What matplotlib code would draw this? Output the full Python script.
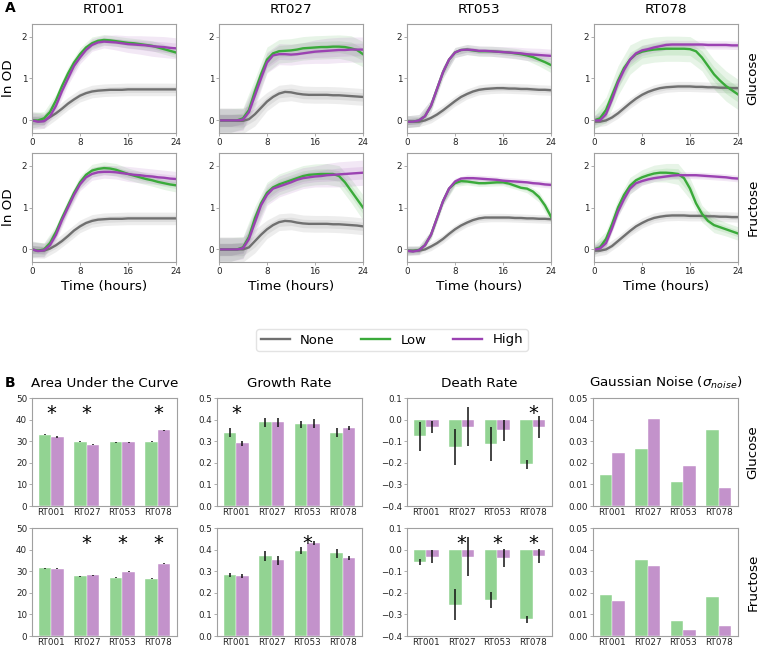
import numpy as np
import matplotlib
matplotlib.use("Agg")
import matplotlib.pyplot as plt
import matplotlib.transforms as mtransforms
from matplotlib.lines import Line2D

strains = ["RT001", "RT027", "RT053", "RT078"]
sugars = ["Glucose", "Fructose"]
levels = ["None", "Low", "High"]
hours = np.arange(25)

# mean ln OD per hour, one row per strain
glc_none = [
    [0, -0.02, -0.01, 0.08, 0.17, 0.28, 0.40, 0.50, 0.59, 0.65, 0.69, 0.71, 0.72, 0.73, 0.73, 0.73, 0.74, 0.74, 0.74, 0.74, 0.74, 0.74, 0.74, 0.74, 0.74],
    [0, 0, 0, -0.01, -0.01, 0.03, 0.15, 0.30, 0.45, 0.56, 0.64, 0.68, 0.67, 0.64, 0.62, 0.61, 0.61, 0.61, 0.61, 0.60, 0.60, 0.59, 0.58, 0.57, 0.56],
    [-0.03, -0.03, -0.03, 0.0, 0.06, 0.14, 0.24, 0.35, 0.46, 0.56, 0.63, 0.69, 0.73, 0.75, 0.76, 0.77, 0.77, 0.76, 0.76, 0.75, 0.75, 0.74, 0.73, 0.73, 0.72],
    [-0.03, -0.03, 0.0, 0.07, 0.17, 0.29, 0.41, 0.52, 0.61, 0.68, 0.73, 0.77, 0.79, 0.80, 0.81, 0.81, 0.81, 0.80, 0.80, 0.79, 0.79, 0.78, 0.78, 0.77, 0.77],
]
glc_low = [
    [0, 0.0, 0.05, 0.20, 0.48, 0.82, 1.12, 1.38, 1.58, 1.74, 1.84, 1.90, 1.92, 1.91, 1.89, 1.87, 1.85, 1.84, 1.82, 1.80, 1.78, 1.74, 1.70, 1.66, 1.62],
    [0, 0, 0, 0, 0.05, 0.25, 0.70, 1.10, 1.45, 1.60, 1.65, 1.66, 1.67, 1.69, 1.72, 1.73, 1.74, 1.75, 1.75, 1.76, 1.76, 1.75, 1.72, 1.68, 1.58],
    [-0.03, -0.03, 0.0, 0.10, 0.35, 0.75, 1.15, 1.45, 1.62, 1.68, 1.69, 1.67, 1.65, 1.65, 1.65, 1.64, 1.63, 1.62, 1.60, 1.58, 1.55, 1.51, 1.45, 1.39, 1.32],
    [0, 0.05, 0.25, 0.60, 0.95, 1.25, 1.45, 1.58, 1.64, 1.67, 1.69, 1.70, 1.71, 1.71, 1.71, 1.71, 1.70, 1.65, 1.50, 1.30, 1.10, 0.95, 0.82, 0.72, 0.62],
]
glc_high = [
    [0, -0.03, -0.02, 0.10, 0.35, 0.70, 1.00, 1.30, 1.50, 1.68, 1.80, 1.86, 1.88, 1.87, 1.86, 1.84, 1.82, 1.81, 1.80, 1.79, 1.77, 1.76, 1.75, 1.73, 1.72],
    [0, 0, 0, 0, 0.02, 0.20, 0.60, 1.00, 1.38, 1.55, 1.58, 1.58, 1.57, 1.58, 1.60, 1.62, 1.64, 1.65, 1.66, 1.67, 1.68, 1.68, 1.69, 1.69, 1.69],
    [-0.03, -0.03, 0.0, 0.10, 0.35, 0.75, 1.15, 1.45, 1.62, 1.68, 1.69, 1.68, 1.66, 1.66, 1.65, 1.64, 1.63, 1.62, 1.61, 1.60, 1.58, 1.57, 1.56, 1.55, 1.54],
    [0, 0.0, 0.15, 0.50, 0.90, 1.20, 1.45, 1.60, 1.67, 1.70, 1.74, 1.77, 1.80, 1.81, 1.81, 1.81, 1.81, 1.81, 1.81, 1.80, 1.80, 1.80, 1.80, 1.79, 1.79],
]
fru_none = [
    [0, -0.03, -0.03, 0.02, 0.10, 0.20, 0.32, 0.45, 0.55, 0.63, 0.68, 0.71, 0.72, 0.73, 0.73, 0.73, 0.74, 0.74, 0.74, 0.74, 0.74, 0.74, 0.74, 0.74, 0.74],
    [0, 0, 0, 0, 0, 0.05, 0.20, 0.35, 0.48, 0.58, 0.65, 0.68, 0.67, 0.64, 0.62, 0.61, 0.61, 0.61, 0.61, 0.60, 0.60, 0.59, 0.58, 0.57, 0.55],
    [-0.03, -0.03, -0.03, 0.0, 0.07, 0.15, 0.25, 0.37, 0.48, 0.57, 0.64, 0.70, 0.74, 0.76, 0.76, 0.76, 0.76, 0.76, 0.75, 0.75, 0.74, 0.74, 0.73, 0.73, 0.72],
    [-0.03, -0.03, 0.0, 0.08, 0.20, 0.32, 0.44, 0.55, 0.63, 0.70, 0.75, 0.78, 0.80, 0.81, 0.81, 0.81, 0.80, 0.80, 0.80, 0.79, 0.79, 0.78, 0.78, 0.77, 0.77],
]
fru_low = [
    [0, -0.03, 0.0, 0.15, 0.42, 0.75, 1.05, 1.35, 1.60, 1.78, 1.88, 1.92, 1.94, 1.93, 1.90, 1.85, 1.80, 1.76, 1.72, 1.68, 1.65, 1.61, 1.58, 1.55, 1.53],
    [0, 0, 0, 0, 0.05, 0.30, 0.75, 1.10, 1.35, 1.48, 1.55, 1.60, 1.65, 1.70, 1.75, 1.78, 1.79, 1.80, 1.80, 1.80, 1.75, 1.60, 1.40, 1.20, 1.00],
    [-0.03, -0.04, -0.01, 0.10, 0.35, 0.75, 1.15, 1.45, 1.58, 1.63, 1.62, 1.60, 1.58, 1.58, 1.59, 1.60, 1.60, 1.57, 1.52, 1.47, 1.45, 1.38, 1.25, 1.05, 0.78],
    [0, 0.05, 0.25, 0.60, 1.00, 1.30, 1.52, 1.65, 1.72, 1.77, 1.81, 1.83, 1.83, 1.82, 1.80, 1.70, 1.45, 1.10, 0.85, 0.68, 0.58, 0.53, 0.48, 0.43, 0.38],
]
fru_high = [
    [0, -0.04, -0.02, 0.10, 0.35, 0.70, 1.00, 1.30, 1.55, 1.72, 1.80, 1.84, 1.85, 1.85, 1.84, 1.82, 1.80, 1.78, 1.77, 1.75, 1.74, 1.72, 1.71, 1.69, 1.68],
    [0, 0, 0, 0, 0.03, 0.25, 0.65, 1.05, 1.30, 1.45, 1.50, 1.55, 1.60, 1.66, 1.70, 1.72, 1.74, 1.75, 1.77, 1.78, 1.79, 1.80, 1.81, 1.82, 1.83],
    [-0.03, -0.05, -0.02, 0.10, 0.35, 0.75, 1.15, 1.45, 1.62, 1.69, 1.70, 1.70, 1.69, 1.68, 1.67, 1.66, 1.64, 1.63, 1.62, 1.61, 1.60, 1.58, 1.57, 1.55, 1.54],
    [0, 0.02, 0.15, 0.50, 0.90, 1.20, 1.45, 1.58, 1.63, 1.67, 1.70, 1.72, 1.74, 1.76, 1.77, 1.77, 1.77, 1.77, 1.76, 1.75, 1.74, 1.73, 1.72, 1.70, 1.69],
]

# outer band half-width, every 2 hours
glc_none_band = [
    [0.22, 0.18, 0.15, 0.15, 0.15, 0.15, 0.15, 0.15, 0.15, 0.15, 0.15, 0.15, 0.15],
    [0.30, 0.30, 0.30, 0.28, 0.22, 0.20, 0.20, 0.20, 0.20, 0.20, 0.20, 0.20, 0.20],
    [0.14, 0.12, 0.12, 0.12, 0.12, 0.12, 0.12, 0.12, 0.12, 0.12, 0.12, 0.12, 0.12],
    [0.14, 0.12, 0.12, 0.12, 0.12, 0.12, 0.12, 0.12, 0.12, 0.12, 0.12, 0.12, 0.12],
]
glc_low_band = [
    [0.18, 0.16, 0.15, 0.15, 0.15, 0.15, 0.13, 0.12, 0.12, 0.12, 0.12, 0.12, 0.12],
    [0.28, 0.28, 0.25, 0.30, 0.30, 0.28, 0.28, 0.28, 0.28, 0.28, 0.28, 0.30, 0.30],
    [0.14, 0.14, 0.14, 0.14, 0.12, 0.12, 0.12, 0.12, 0.12, 0.12, 0.12, 0.15, 0.18],
    [0.20, 0.30, 0.35, 0.35, 0.30, 0.30, 0.30, 0.30, 0.30, 0.32, 0.35, 0.36, 0.36],
]
glc_high_band = [
    [0.18, 0.16, 0.15, 0.15, 0.15, 0.15, 0.15, 0.18, 0.20, 0.22, 0.24, 0.25, 0.25],
    [0.28, 0.28, 0.25, 0.28, 0.25, 0.25, 0.25, 0.25, 0.28, 0.30, 0.30, 0.30, 0.30],
    [0.14, 0.14, 0.14, 0.14, 0.12, 0.12, 0.12, 0.12, 0.13, 0.14, 0.15, 0.16, 0.16],
    [0.12, 0.12, 0.12, 0.12, 0.12, 0.12, 0.12, 0.10, 0.10, 0.10, 0.10, 0.10, 0.10],
]
fru_none_band = [
    [0.20, 0.18, 0.15, 0.15, 0.15, 0.15, 0.15, 0.15, 0.15, 0.15, 0.15, 0.15, 0.15],
    [0.30, 0.30, 0.30, 0.28, 0.22, 0.20, 0.20, 0.20, 0.20, 0.20, 0.20, 0.20, 0.20],
    [0.12, 0.10, 0.10, 0.10, 0.10, 0.10, 0.10, 0.10, 0.10, 0.10, 0.10, 0.10, 0.10],
    [0.14, 0.12, 0.12, 0.12, 0.12, 0.12, 0.12, 0.12, 0.12, 0.12, 0.12, 0.12, 0.12],
]
fru_low_band = [
    [0.18, 0.16, 0.15, 0.15, 0.15, 0.15, 0.15, 0.15, 0.14, 0.14, 0.14, 0.15, 0.16],
    [0.28, 0.28, 0.25, 0.28, 0.25, 0.25, 0.25, 0.25, 0.25, 0.25, 0.25, 0.28, 0.30],
    [0.10, 0.10, 0.10, 0.10, 0.08, 0.08, 0.08, 0.08, 0.08, 0.08, 0.10, 0.12, 0.14],
    [0.14, 0.18, 0.20, 0.20, 0.18, 0.20, 0.22, 0.25, 0.25, 0.20, 0.18, 0.16, 0.16],
]
fru_high_band = [
    [0.18, 0.16, 0.15, 0.15, 0.15, 0.15, 0.15, 0.16, 0.18, 0.18, 0.18, 0.18, 0.18],
    [0.28, 0.28, 0.25, 0.28, 0.25, 0.25, 0.25, 0.25, 0.25, 0.28, 0.30, 0.30, 0.30],
    [0.10, 0.10, 0.10, 0.10, 0.08, 0.08, 0.08, 0.08, 0.08, 0.08, 0.08, 0.08, 0.08],
    [0.12, 0.12, 0.12, 0.12, 0.10, 0.08, 0.08, 0.08, 0.08, 0.08, 0.08, 0.08, 0.08],
]

curves = {
    "Glucose": [glc_none, glc_low, glc_high],
    "Fructose": [fru_none, fru_low, fru_high],
}
bands = {
    "Glucose": [glc_none_band, glc_low_band, glc_high_band],
    "Fructose": [fru_none_band, fru_low_band, fru_high_band],
}

# panel B: (low, low_err, high, high_err) per strain
auc_glc = ([33.0, 29.7, 29.4, 29.7], [0.3, 0.2, 0.2, 0.2], [32.0, 28.3, 29.5, 35.0], [0.3, 0.2, 0.2, 0.2])
auc_fru = ([31.4, 27.6, 27.0, 26.6], [0.3, 0.2, 0.2, 0.2], [31.2, 28.1, 29.8, 33.5], [0.2, 0.2, 0.2, 0.2])
gr_glc = ([0.340, 0.387, 0.378, 0.340], [0.020, 0.020, 0.015, 0.022], [0.290, 0.388, 0.381, 0.360], [0.012, 0.020, 0.020, 0.010])
gr_fru = ([0.282, 0.370, 0.395, 0.383], [0.010, 0.025, 0.017, 0.022], [0.279, 0.350, 0.430, 0.361], [0.010, 0.020, 0.008, 0.008])
dr_glc = ([-0.078, -0.125, -0.113, -0.207], [0.068, 0.083, 0.077, 0.022], [-0.033, -0.033, -0.050, -0.035], [0.028, 0.090, 0.050, 0.050])
dr_fru = ([-0.057, -0.256, -0.232, -0.323], [0.015, 0.072, 0.038, 0.017], [-0.032, -0.032, -0.040, -0.030], [0.028, 0.090, 0.042, 0.032])
noise_glc = ([0.0143, 0.0265, 0.0110, 0.0350], None, [0.0245, 0.0403, 0.0187, 0.0082], None)
noise_fru = ([0.0188, 0.0352, 0.0069, 0.0180], None, [0.0160, 0.0324, 0.0028, 0.0046], None)

stars = {
    ("auc", "Glucose"): [0, 1, 3], ("auc", "Fructose"): [1, 2, 3],
    ("gr", "Glucose"): [0], ("gr", "Fructose"): [2],
    ("dr", "Glucose"): [3], ("dr", "Fructose"): [1, 2, 3],
    ("noise", "Glucose"): [], ("noise", "Fructose"): [],
}

line_colors = ["#707070", "#3aaa3a", "#9b42b2"]
bar_low = "#92d392"
bar_high = "#c392cb"
spine_c = "#a0a0a0"
tick_c = "#222222"
label_fs = 9.7
tick_fs = 6.3

W, H = 760, 647
fig = plt.figure(figsize=(W / 100, H / 100), dpi=100)


def rect(left, top, width, height):
    return [left / W, 1 - (top + height) / H, width / W, height / H]


def style(ax):
    for s in ax.spines.values():
        s.set_color(spine_c)
        s.set_linewidth(0.8)
    ax.tick_params(labelsize=tick_fs, labelcolor=tick_c, color=spine_c,
                   length=2, width=0.6, pad=1.5)


# ---- panel A ----
curve_lefts = [32, 219, 407, 594]
curve_tops = [24, 153]
for r, sugar in enumerate(sugars):
    for c, strain in enumerate(strains):
        ax = fig.add_axes(rect(curve_lefts[c], curve_tops[r], 144, 109))
        style(ax)
        for k in range(3):
            m = np.array(curves[sugar][k][c])
            b = np.array(bands[sugar][k][c])
            mb = m[::2]
            hb = hours[::2]
            ax.fill_between(hb, mb - b, mb + b, color=line_colors[k], alpha=0.12, lw=0)
            ax.fill_between(hb, mb - b / 2, mb + b / 2, color=line_colors[k], alpha=0.12, lw=0)
        for k in range(3):
            ax.plot(hours, curves[sugar][k][c], color=line_colors[k], lw=1.7)
        ax.set_xlim(0, 24)
        ax.set_ylim(-0.3, 2.3)
        ax.set_xticks([0, 8, 16, 24])
        ax.set_yticks([0, 1, 2])
        if r == 0:
            ax.set_title(strain, fontsize=label_fs, pad=8)
        else:
            ax.set_xlabel("Time (hours)", fontsize=label_fs, labelpad=3)
    fig.text(8 / W, 1 - (curve_tops[r] + 54) / H, "ln OD", rotation=90,
             fontsize=label_fs, ha="center", va="center")
    fig.text(753 / W, 1 - (curve_tops[r] + 54) / H, sugar, rotation=90,
             fontsize=label_fs, ha="center", va="center")

handles = [Line2D([], [], color=line_colors[k], lw=1.7) for k in range(3)]
fig.legend(handles, levels, loc="center", bbox_to_anchor=(392 / W, 1 - 340 / H),
           ncol=3, fontsize=9.5, frameon=True, edgecolor="#dddddd", fancybox=True,
           handlelength=2.2, columnspacing=2.0, borderpad=0.35)

# ---- panel B ----
metrics = [
    ("auc", "Area Under the Curve", {"Glucose": auc_glc, "Fructose": auc_fru}, (0, 50), [0, 10, 20, 30, 40, 50], "{:.0f}"),
    ("gr", "Growth Rate", {"Glucose": gr_glc, "Fructose": gr_fru}, (0, 0.5), [0, 0.1, 0.2, 0.3, 0.4, 0.5], "{:.1f}"),
    ("dr", "Death Rate", {"Glucose": dr_glc, "Fructose": dr_fru}, (-0.4, 0.1), [-0.4, -0.3, -0.2, -0.1, 0.0, 0.1], "{:.1f}"),
    ("noise", r"Gaussian Noise ($\sigma_{noise}$)", {"Glucose": noise_glc, "Fructose": noise_fru}, (0, 0.05), [0, 0.01, 0.02, 0.03, 0.04, 0.05], "{:.2f}"),
]
bar_lefts = [32, 217, 407, 593]
bar_tops = [398, 528]
x = np.arange(len(strains))
bw = 0.35
for r, sugar in enumerate(sugars):
    for c, (key, title, data, ylim, yticks, fmt) in enumerate(metrics):
        ax = fig.add_axes(rect(bar_lefts[c], bar_tops[r], 145, 108))
        style(ax)
        low, low_err, high, high_err = data[sugar]
        ax.bar(x - bw / 2, low, bw, color=bar_low, edgecolor="white", linewidth=0.3)
        ax.bar(x + bw / 2, high, bw, color=bar_high, edgecolor="white", linewidth=0.3)
        if low_err is not None:
            ax.errorbar(x - bw / 2, low, yerr=low_err, fmt="none", ecolor="#111111", elinewidth=1.1, capsize=0)
            ax.errorbar(x + bw / 2, high, yerr=high_err, fmt="none", ecolor="#111111", elinewidth=1.1, capsize=0)
        ax.set_ylim(*ylim)
        ax.set_yticks(yticks)
        ax.set_yticklabels([fmt.format(v).replace("-", "\u2212") for v in yticks])
        ax.set_xticks(x)
        ax.set_xticklabels(strains)
        ax.tick_params(axis="x", length=0, pad=1.5)
        trans = mtransforms.blended_transform_factory(ax.transData, ax.transAxes)
        for i in stars[(key, sugar)]:
            ax.text(i, 0.86, "*", transform=trans, ha="center", va="center", fontsize=14)
        if r == 0:
            ax.set_title(title, fontsize=label_fs, pad=8)
    fig.text(753 / W, 1 - (bar_tops[r] + 54) / H, sugar, rotation=90,
             fontsize=label_fs, ha="center", va="center")

fig.text(5 / W, 1 - 8 / H, "A", fontsize=10, fontweight="bold", va="center", ha="left")
fig.text(5 / W, 1 - 383 / H, "B", fontsize=10, fontweight="bold", va="center", ha="left")

fig.savefig("out.png", dpi=100)
